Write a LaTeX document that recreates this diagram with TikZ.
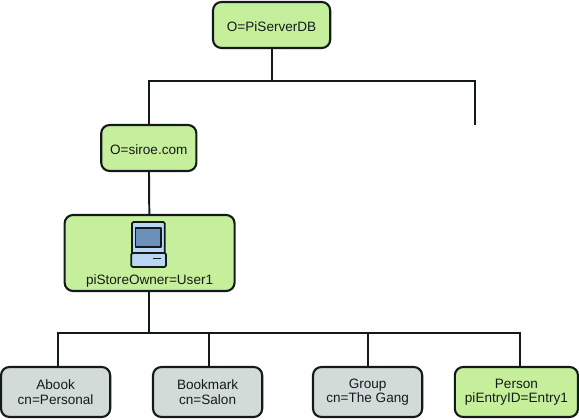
\documentclass[tikz,border=0pt]{standalone}
\usepackage{fontspec}
\setmainfont{Liberation Sans}
\usetikzlibrary{positioning}
\definecolor{ink}{HTML}{141A1C}
\definecolor{leafgreen}{HTML}{C6EF9C}
\definecolor{leafgrey}{HTML}{D3DBD9}
\definecolor{pcbody}{HTML}{B9D6F2}
\definecolor{pcscreen}{HTML}{6C8FBC}

\begin{document}
\begin{tikzpicture}[
  font=\fontsize{9.65}{10.2}\selectfont,
  box/.style    = {draw=ink, line width=1.5pt, rounded corners=6pt, align=center,
                   inner sep=0pt, text=ink},
  entry/.style  = {box, fill=leafgreen},
  folder/.style = {box, fill=leafgrey, minimum width=2.73cm, minimum height=1.25cm},
  conn/.style   = {draw=ink, line width=1.4pt},
  pc/.style     = {draw=ink, line width=1.2pt, line join=round},
]
\useasboundingbox (0,0) rectangle (14.475,10.475);

\node[entry, minimum width=2.93cm, minimum height=1.15cm] (root) at (6.79, 9.85) {};
\node[text=ink, inner sep=0pt] (rootlabel) at (6.79, 9.81) {O=PiServerDB};
\node[entry, minimum width=2.38cm, minimum height=1.15cm] (siroe) at (3.72, 6.775) {};
\node[text=ink, inner sep=0pt] (siroelabel) at (3.72, 6.74) {O=siroe.com};
\node[entry, minimum width=4.25cm, minimum height=1.9cm] (owner) at (3.74, 4.15) {};
\node[text=ink, inner sep=0pt] (ownerlabel) at (3.74, 3.45) {piStoreOwner=User1};

\node[folder] (abook) at (1.39, 0.675) {Abook\\cn=Personal};
\node[folder] (bookmark) at (5.19, 0.675) {Bookmark\\cn=Salon};
\node[folder] (group) at (9.19, 0.675) {Group\\cn=The Gang};
\node[entry, minimum width=3.08cm, minimum height=1.25cm] (person) at (12.91, 0.675) {Person\\piEntryID=Entry1};

\coordinate (topbus) at (6.79, 8.45);
\coordinate (stub) at (11.87, 7.35);
\coordinate (lowbus) at (3.72, 2.15);

\draw[conn] (root) -- (topbus);
\draw[conn] (topbus) -| (siroe.north);
\draw[conn] (topbus) -| (stub);
\draw[conn] (siroe) -- (owner);
\draw[conn] (owner.south -| lowbus) -- (lowbus);
\draw[conn] (lowbus) -| ([xshift=2pt]abook.north);
\draw[conn] (lowbus) -| ([xshift=1.2pt]bookmark.north);
\draw[conn] (lowbus) -| (group.north);
\draw[conn] (lowbus) -| ([xshift=2.8pt]person.north);

% computer in the owner box
\draw[pc, fill=pcbody, rounded corners=1pt] (3.30, 4.10) rectangle (4.12, 4.925);
\draw[pc, fill=pcscreen] (3.39, 4.30) rectangle (4.03, 4.78);
\draw[pc, fill=pcbody, rounded corners=1pt] (3.28, 3.80) rectangle (4.15, 4.15);
\draw[ink, line width=0.9pt] (3.83, 4.02) -- (4.03, 4.02);

\end{tikzpicture}
\end{document}
